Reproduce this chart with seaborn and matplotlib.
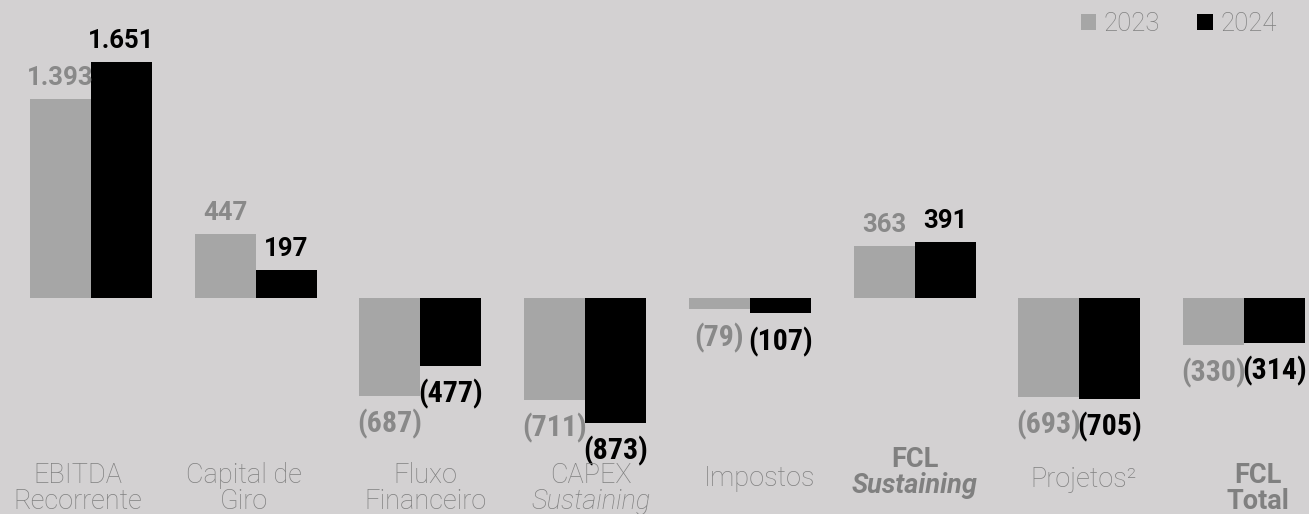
import matplotlib
matplotlib.use("Agg")
import matplotlib.pyplot as plt
from matplotlib import font_manager
from matplotlib.patches import Patch
import seaborn as sns
import pandas as pd

# ---------------- data ----------------
categories = ["EBITDA Recorrente", "Capital de Giro", "Fluxo Financeiro", "CAPEX Sustaining",
              "Impostos", "FCL Sustaining", "Projetos²", "FCL Total"]
years = ["2023", "2024"]
values_2023 = [1393, 447, -687, -711, -79, 363, -693, -330]
values_2024 = [1651, 197, -477, -873, -107, 391, -705, -314]

label_line1 = ["EBITDA", "Capital de", "Fluxo", "CAPEX", "Impostos", "FCL", "Projetos²", "FCL"]
label_line2 = ["Recorrente", "Giro", "Financeiro", "Sustaining", "", "Sustaining", "", "Total"]

# ---------------- style ----------------
BG = "#d3d1d2"
GRAY = "#a6a6a6"
BLACK = "#000000"
GRAY_TXT = "#898989"
CAT_TXT = "#808080"

line1_weight = ["light", "light", "light", "light", "light", "bold", "light", "bold"]
line1_style = ["normal"] * 8
line2_weight = ["light", "light", "light", "light", "light", "bold", "light", "bold"]
line2_style = ["normal", "normal", "normal", "italic", "normal", "italic", "normal", "normal"]
line1_base_px = [483, 483, 483, 483, 486, 467, 487, 483]
line2_base_px = [509, 509, 509, 509, 509, 493, 509, 509]
label_dx_px = [-13, -12, 5, 6, 10, 0, 4, 14]

W, H = 1309, 514

plt.rcParams["font.family"] = ["Roboto", "DejaVu Sans"]


def find_condensed_bold(size):
    cands = []
    for f in font_manager.fontManager.ttflist:
        name = f.name.lower()
        fname = f.fname.lower()
        cond = ("condensed" in name or "narrow" in name or "condensed" in fname
                or "narrow" in fname or str(f.stretch) in ("condensed", "semi-condensed",
                                                             "extra-condensed"))
        if not cond or f.style != "normal":
            continue
        w = f.weight if isinstance(f.weight, int) else {"bold": 700}.get(str(f.weight), 400)
        score = 0
        if "roboto" in name:
            score += 100
        elif "liberation" in name or "arial" in name:
            score += 50
        elif "noto" in name or "open" in name:
            score += 40
        elif "dejavu" in name:
            score += 10
        if w >= 700 or "bold" in fname:
            score += 20
        cands.append((score, f.fname))
    if cands:
        cands.sort(reverse=True)
        return font_manager.FontProperties(fname=cands[0][1], size=size)
    return font_manager.FontProperties(family=["Roboto", "DejaVu Sans"], weight="bold",
                                       size=size - 2.5)


neg_font = find_condensed_bold(21.5)

df = pd.DataFrame({
    "cat": categories * 2,
    "year": [years[0]] * len(categories) + [years[1]] * len(categories),
    "value": values_2023 + values_2024,
})

fig = plt.figure(figsize=(W / 100, H / 100), dpi=100)
fig.patch.set_facecolor(BG)
ax = fig.add_axes([0, 0, 1, 1])
ax.set_facecolor(BG)

sns.barplot(data=df, x="cat", y="value", hue="year", hue_order=years,
            palette=[GRAY, BLACK], saturation=1, width=0.741, gap=0,
            linewidth=0, legend=False, ax=ax, errorbar=None)

ax.set_xlim(-0.5525, 7.395)
ax.set_ylim(-1512, 2086)
ax.axis("off")


def fmt(v):
    s = f"{abs(v):,}".replace(",", ".")
    return f"({s})" if v < 0 else s


for cont, vals, col in zip(ax.containers, [values_2023, values_2024], [GRAY_TXT, BLACK]):
    for bar, v in zip(cont, vals):
        xc = bar.get_x() + bar.get_width() / 2
        if v >= 0:
            ax.annotate(fmt(v), (xc, v), xytext=(0, 10), textcoords="offset points",
                        ha="center", va="baseline", fontsize=18.5, fontweight="bold",
                        color=col, family=["Roboto", "DejaVu Sans"])
        else:
            ax.annotate(fmt(v), (xc, v), xytext=(0, -9.5), textcoords="offset points",
                        ha="center", va="top", fontproperties=neg_font, color=col)

tr = ax.get_xaxis_transform()
px_per_unit = W / (7.395 + 0.5525)
for i in range(len(categories)):
    xi = i + label_dx_px[i] / px_per_unit
    ax.text(xi, 1 - line1_base_px[i] / H, label_line1[i], transform=tr, ha="center",
            va="baseline", fontsize=19.5, color=CAT_TXT, fontweight=line1_weight[i],
            fontstyle=line1_style[i])
    if label_line2[i]:
        ax.text(xi, 1 - line2_base_px[i] / H, label_line2[i], transform=tr, ha="center",
                va="baseline", fontsize=19.5, color=CAT_TXT, fontweight=line2_weight[i],
                fontstyle=line2_style[i])

handles = [Patch(facecolor=GRAY, edgecolor="none"), Patch(facecolor=BLACK, edgecolor="none")]
leg = ax.legend(handles, years, ncol=2, frameon=False, loc="upper right",
                bbox_to_anchor=(1277 / W, 1 - 12 / H), bbox_transform=fig.transFigure,
                prop={"family": "Roboto", "weight": "light", "size": 18.5},
                handlelength=0.6, handleheight=0.6, handletextpad=0.3,
                columnspacing=1.45, borderaxespad=0, borderpad=0, labelcolor=CAT_TXT)

fig.savefig("out.png", dpi=100, facecolor=BG)
